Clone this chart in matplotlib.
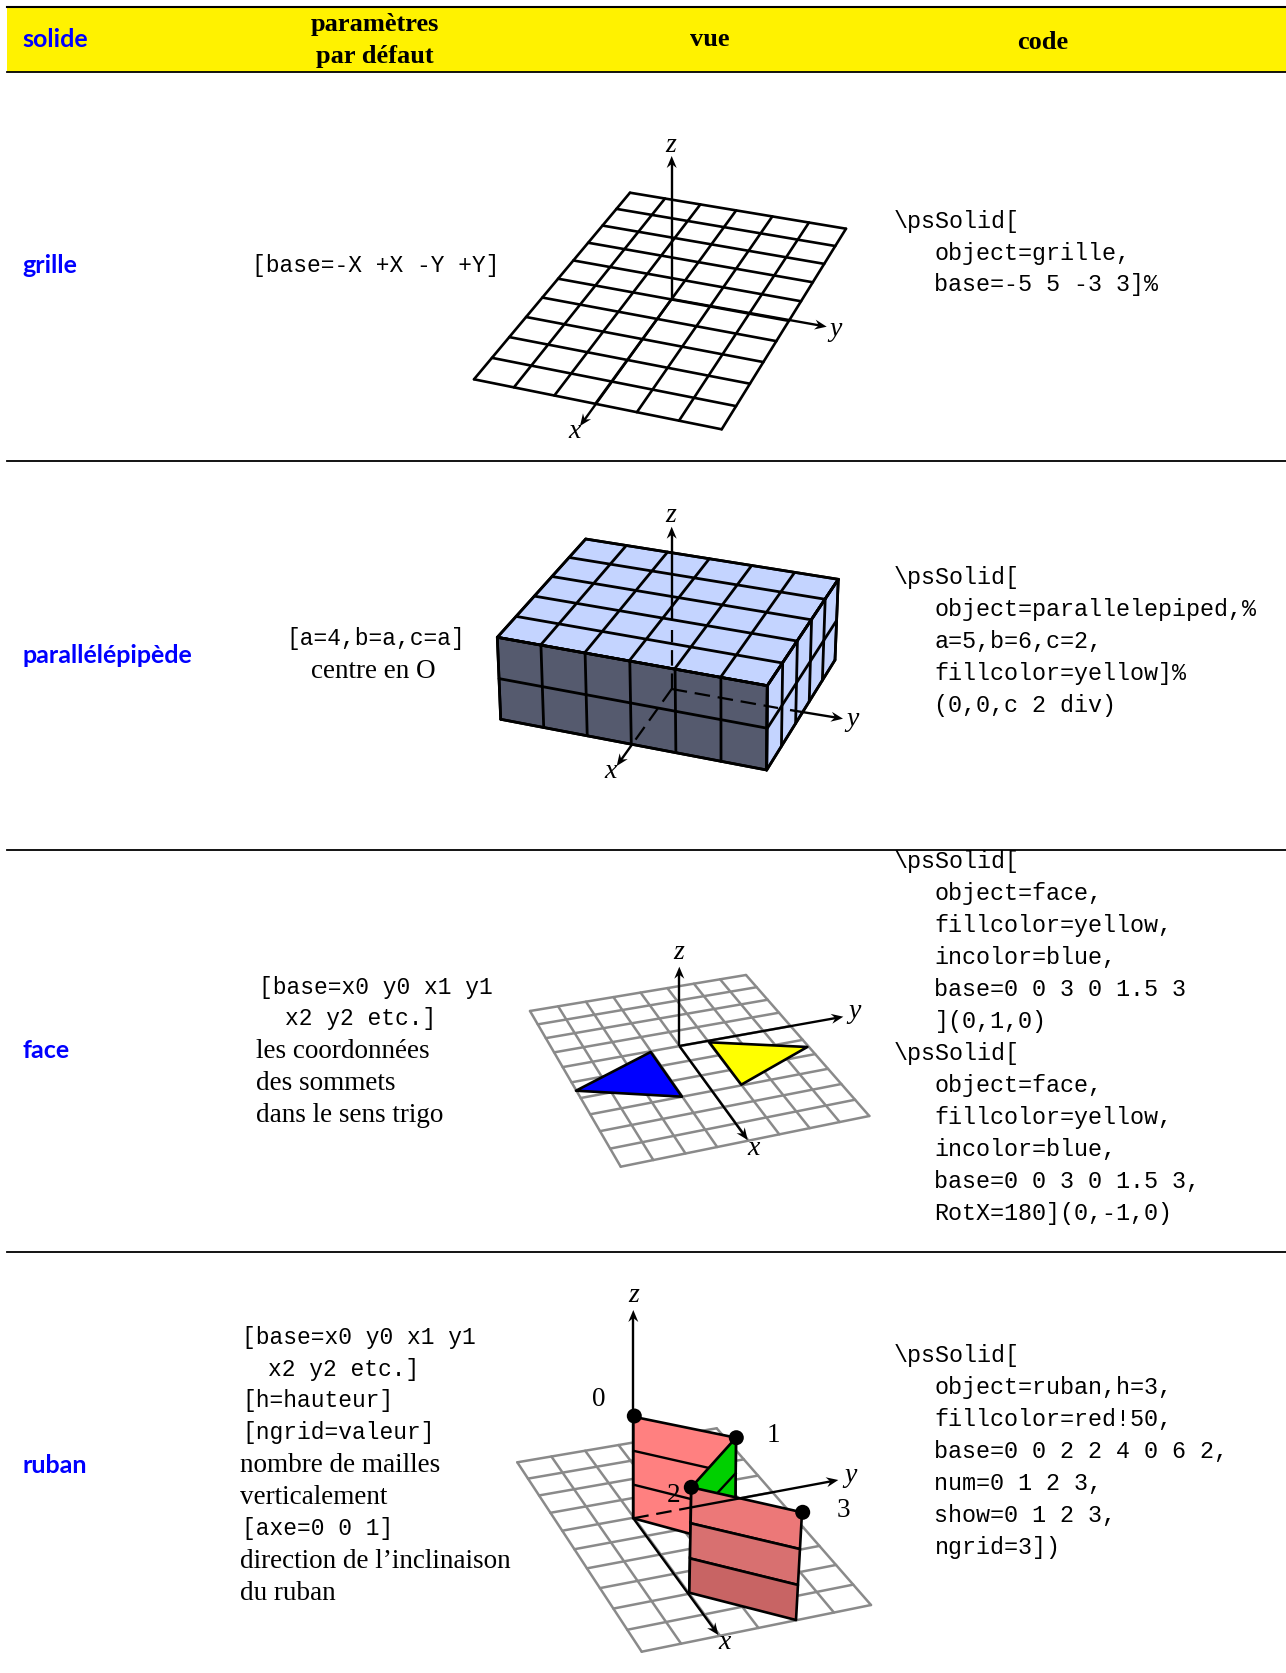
import numpy as np
import matplotlib
matplotlib.use('Agg')
import matplotlib.pyplot as plt
from matplotlib.patches import Polygon, Rectangle, Circle

W, H = 1286, 1673

# ---- text of the table
headers = ['solide', 'paramètres', 'par défaut', 'vue', 'code']
solids = ['grille', 'parallélépipède', 'face', 'ruban']
solid_y = [264.6, 654, 1049, 1464]
rule_y = [461, 849.5, 1251.7]

# (x, y, text, is_mono)
params = [
    (252, 264.6, '[base=-X +X -Y +Y]', True),
    (286, 638, '[a=4,b=a,c=a]', True),
    (311, 669, 'centre en O', False),
    (259, 987, '[base=x0 y0 x1 y1', True),
    (285, 1018, 'x2 y2 etc.]', True),
    (256, 1049, 'les coordonnées', False),
    (256, 1081, 'des sommets', False),
    (256, 1113, 'dans le sens trigo', False),
    (242, 1337, '[base=x0 y0 x1 y1', True),
    (268, 1369, 'x2 y2 etc.]', True),
    (242, 1400, '[h=hauteur]', True),
    (242, 1432, '[ngrid=valeur]', True),
    (240, 1464, 'nombre de mailles', False),
    (240, 1496, 'verticalement', False),
    (242, 1528, '[axe=0 0 1]', True),
    (240, 1559, 'direction de l’inclinaison', False),
    (240, 1591, 'du ruban', False),
]

code1 = ['\\psSolid[', '   object=grille,', '   base=-5 5 -3 3]%']
code1_y = [220.9, 252.9, 283.8]
code2 = ['\\psSolid[', '   object=parallelepiped,%', '   a=5,b=6,c=2,',
         '   fillcolor=yellow]%', '   (0,0,c 2 div)']
code2_y = [577, 609, 641, 673, 705]
code3 = ['\\psSolid[', '   object=face,', '   fillcolor=yellow,', '   incolor=blue,',
         '   base=0 0 3 0 1.5 3', '   ](0,1,0)', '\\psSolid[', '   object=face,',
         '   fillcolor=yellow,', '   incolor=blue,', '   base=0 0 3 0 1.5 3,',
         '   RotX=180](0,-1,0)']
code3_y = [861, 893, 925, 957, 989, 1021, 1053, 1085, 1117, 1149, 1181, 1213]
code4 = ['\\psSolid[', '   object=ruban,h=3,', '   fillcolor=red!50,',
         '   base=0 0 2 2 4 0 6 2,', '   num=0 1 2 3,', '   show=0 1 2 3,', '   ngrid=3])']
code4_y = [1355, 1387, 1419, 1451, 1483, 1515, 1547]

# ---- corners, order: back-left, back-right, front-right, front-left
grid1 = [(630, 192.7), (846, 228.7), (721.7, 429.3), (474, 379.3)]
box_top = [(585.7, 539), (838.3, 579.3), (767.3, 685.7), (497.3, 637.3)]
box_front = [(497.3, 637.3), (767.3, 685.7), (766.7, 770), (500.7, 719.3)]
box_right = [(767.3, 685.7), (838.3, 579.3), (835, 660), (766.7, 770)]
grid3 = [(530, 1011), (746, 975), (869.3, 1116), (620.7, 1166.7)]
blue_tri = [(576, 1090.7), (650.7, 1052), (682, 1096.7)]
yellow_tri = [(709.3, 1042.3), (807.3, 1047), (741.3, 1084.7)]
grid4 = [(517.3, 1462.3), (716.7, 1428.3), (871, 1605), (641.7, 1651.7)]
ribbon_back = [(633.3, 1416.7), (736, 1437.7), (735, 1546), (633.3, 1518.3)]
ribbon_side = [(736, 1437.7), (691.3, 1487.3), (689.3, 1592.7), (735, 1546)]
ribbon_front = [(691.3, 1487.3), (802, 1512.3), (796, 1620), (689.3, 1592.7)]
ribbon_dots = [(634.3, 1416), (736.3, 1437.7), (691.3, 1487.3), (802.7, 1512.3)]
ribbon_nums = [(598.7, 1397.3, '0'), (773.3, 1434, '1'), (674, 1494, '2'), (843.3, 1508.3, '3')]

YELLOW = '#fff200'
BLUE = '#0000ff'
LIGHT = '#c4d4ff'
DARK = '#555a6e'
GREY = '#8a8a8a'

SANS = 'Lato'
SERIF = 'Liberation Serif'
MONO = 'Liberation Mono'
DY = 2     # text sits a bit lower than va=center gives
DY_MONO = 0.8


def homography(corners):
    # unit square -> 4 corners, the pictures are in perspective
    src = [(0, 0), (1, 0), (1, 1), (0, 1)]
    A, b = [], []
    for (u, v), (x, y) in zip(src, corners):
        A.append([u, v, 1, 0, 0, 0, -u * x, -v * x])
        A.append([0, 0, 0, u, v, 1, -u * y, -v * y])
        b += [x, y]
    h = np.linalg.solve(np.array(A, float), np.array(b, float))
    return np.append(h, 1).reshape(3, 3)


def project(m, u, v):
    p = m @ np.array([u, v, 1.0])
    return p[0] / p[2], p[1] / p[2]


def draw_grid(ax, corners, nu, nv, color='k', lw=1.9, zorder=2):
    m = homography(corners)
    for i in range(nu + 1):
        a, b = project(m, i / nu, 0), project(m, i / nu, 1)
        ax.plot([a[0], b[0]], [a[1], b[1]], color=color, lw=lw, zorder=zorder, solid_capstyle='round')
    for j in range(nv + 1):
        a, b = project(m, 0, j / nv), project(m, 1, j / nv)
        ax.plot([a[0], b[0]], [a[1], b[1]], color=color, lw=lw, zorder=zorder, solid_capstyle='round')


def arrow(ax, start, end, zorder=5):
    # pstricks style head: barbed, with a notch at the back
    s, e = np.array(start, float), np.array(end, float)
    d = (e - s) / np.hypot(*(e - s))
    n = np.array([-d[1], d[0]])
    ax.plot([s[0], (e - 6 * d)[0]], [s[1], (e - 6 * d)[1]], color='k', lw=1.7, zorder=zorder,
            solid_capstyle='butt')
    head = [e, e - 12 * d + 5 * n, e - 8 * d, e - 12 * d - 5 * n]
    ax.add_patch(Polygon(head, closed=True, facecolor='k', edgecolor='none', zorder=zorder))


def dashed(ax, start, end, zorder=5):
    ax.plot([start[0], end[0]], [start[1], end[1]], color='k', lw=1.6, zorder=zorder,
            dashes=(7, 3.5), dash_capstyle='butt')


def axis_label(ax, x, y, s):
    ax.text(x, y, s, family=SERIF, style='italic', fontsize=20, ha='center', va='center', zorder=6)


def poly(ax, pts, color, zorder=3, edge='k', lw=1.9):
    ax.add_patch(Polygon(pts, closed=True, facecolor=color, edgecolor=edge, lw=lw, zorder=zorder,
                         joinstyle='round'))


def draw_code(ax, lines, ys):
    for s, y in zip(lines, ys):
        x = 934.5 if s.startswith(' ') else 894
        ax.text(x, y + DY_MONO, s.strip(), family=MONO, fontsize=16.85, ha='left', va='center', zorder=7)


def main():
    fig = plt.figure(figsize=(W / 100, H / 100), dpi=100)
    ax = fig.add_axes([0, 0, 1, 1])
    ax.set_xlim(0, W)
    ax.set_ylim(H, 0)
    ax.axis('off')

    # table frame
    ax.add_patch(Rectangle((6.5, 6.5), W - 6.5, 65, facecolor=YELLOW, edgecolor='none', zorder=1))
    ax.plot([6.5, W], [6.5, 6.5], color='k', lw=1.5, zorder=2)
    ax.plot([6.5, W], [71.5, 71.5], color='k', lw=1.3, zorder=2)
    for y in rule_y:
        ax.plot([7, W], [y, y], color='k', lw=1.3, zorder=2)

    # header
    ax.text(22.4, 37.4 + DY, headers[0], family=SANS, weight='bold', color=BLUE, fontsize=18, ha='left', va='center')
    ax.text(374.5, 22.4 + DY, headers[1], family=SERIF, weight='bold', fontsize=19, ha='center', va='center')
    ax.text(374.5, 54.4 + DY, headers[2], family=SERIF, weight='bold', fontsize=19, ha='center', va='center')
    ax.text(709.6, 37.4 + DY, headers[3], family=SERIF, weight='bold', fontsize=19, ha='center', va='center')
    ax.text(1042.5, 40.5 + DY, headers[4], family=SERIF, weight='bold', fontsize=19, ha='center', va='center')

    for s, y in zip(solids, solid_y):
        ax.text(22.4, y + 1.2, s, family=SANS, weight='bold', color=BLUE, fontsize=18, ha='left', va='center')

    for x, y, s, is_mono in params:
        if is_mono:
            ax.text(x, y + DY_MONO, s, family=MONO, fontsize=16.5, ha='left', va='center')
        else:
            ax.text(x, y + DY, s, family=SERIF, fontsize=19.5, ha='left', va='center')

    draw_code(ax, code1, code1_y)
    draw_code(ax, code2, code2_y)
    draw_code(ax, code3, code3_y)
    draw_code(ax, code4, code4_y)

    # grille
    draw_grid(ax, grid1, 6, 10)
    arrow(ax, (671.7, 299), (671.7, 156))
    arrow(ax, (671.7, 299), (580, 426))
    arrow(ax, (671.7, 299), (826.7, 326.7))
    axis_label(ax, 670.7, 145, 'z')
    axis_label(ax, 575, 431.7, 'x')
    axis_label(ax, 835.7, 329, 'y')

    # parallelepiped
    poly(ax, box_top, LIGHT)
    poly(ax, box_front, DARK)
    poly(ax, box_right, LIGHT)
    draw_grid(ax, box_top, 6, 5, lw=2.0, zorder=4)
    draw_grid(ax, box_front, 6, 2, lw=2.0, zorder=4)
    draw_grid(ax, box_right, 5, 2, lw=2.0, zorder=4)
    ax.plot([671.7, 671.7], [618, 552.7], color='k', lw=1.7, zorder=5)
    dashed(ax, (671.7, 689), (671.7, 630))
    arrow(ax, (671.7, 553), (671.7, 526.7))
    dashed(ax, (671.7, 689), (631.7, 745))
    arrow(ax, (631.7, 745), (616.7, 766))
    dashed(ax, (671.7, 689), (778, 708))
    arrow(ax, (790, 710), (843, 718.7))
    axis_label(ax, 670.7, 516, 'z')
    axis_label(ax, 610.7, 771.7, 'x')
    axis_label(ax, 853, 719, 'y')

    # face
    draw_grid(ax, grid3, 8, 10, color=GREY, lw=1.8)
    poly(ax, blue_tri, '#0000ff', zorder=4)
    arrow(ax, (679.3, 1046), (679.3, 966.7))
    arrow(ax, (679.3, 1046), (843.3, 1016.7))
    arrow(ax, (679.3, 1046), (747.7, 1140))
    poly(ax, yellow_tri, '#ffff00', zorder=6)
    axis_label(ax, 678.3, 952.7, 'z')
    axis_label(ax, 855, 1011.7, 'y')
    axis_label(ax, 753.3, 1148.3, 'x')

    # ruban
    draw_grid(ax, grid4, 6, 10, color=GREY, lw=1.8)
    m_back = homography(ribbon_back)
    poly(ax, ribbon_back, '#ff8080', zorder=3)
    for t in (1 / 3, 2 / 3):
        a, b = project(m_back, 0, t), project(m_back, 1, t)
        ax.plot([a[0], b[0]], [a[1], b[1]], color='k', lw=1.7, zorder=3.1)
    dashed(ax, (633.3, 1518.3), (691.7, 1507.3), zorder=3.2)

    m_side = homography(ribbon_side)
    poly(ax, ribbon_side, '#00d000', zorder=3.5)
    for t in (1 / 3, 2 / 3):
        a, b = project(m_side, 0, t), project(m_side, 1, t)
        ax.plot([a[0], b[0]], [a[1], b[1]], color='k', lw=1.7, zorder=3.6)

    m_front = homography(ribbon_front)
    band_colors = ['#ec7878', '#d87070', '#c86464']
    for k, c in enumerate(band_colors):
        pts = [project(m_front, 0, k / 3), project(m_front, 1, k / 3),
               project(m_front, 1, (k + 1) / 3), project(m_front, 0, (k + 1) / 3)]
        poly(ax, pts, c, zorder=4)

    arrow(ax, (633.3, 1518.3), (718.3, 1635), zorder=3.8)
    arrow(ax, (691.7, 1507.3), (838.3, 1480), zorder=5)
    ax.plot([633.3, 633.3], [1416, 1518.3], color='k', lw=1.7, zorder=3.2)
    arrow(ax, (633.3, 1416), (633.3, 1310))
    for x, y in ribbon_dots:
        ax.add_patch(Circle((x, y), 7.5, facecolor='k', edgecolor='none', zorder=6))
    for x, y, s in ribbon_nums:
        ax.text(x, y + DY, s, family=SERIF, fontsize=19.5, ha='center', va='center', zorder=7)
    axis_label(ax, 633.3, 1295, 'z')
    axis_label(ax, 850, 1475, 'y')
    axis_label(ax, 725, 1642.7, 'x')

    fig.savefig('out.png', dpi=100)


if __name__ == '__main__':
    main()
